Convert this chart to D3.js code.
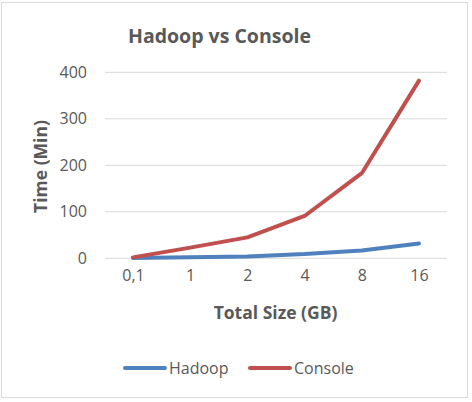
<!DOCTYPE html>
<html><head><meta charset="utf-8">
<script src="https://cdn.jsdelivr.net/npm/d3@7"></script>
<style>body{margin:0;background:#fff}svg{display:block}text{font-family:"Open Sans",sans-serif;fill:#595959}</style>
</head><body>
<svg id="c" width="472" height="402"></svg>
<script>
const categories = ["0,1","1","2","4","8","16"];
const hadoop = [0.5, 2, 4, 9, 17, 32];
const consoleVals = [2, 23, 45, 91, 183, 382];
const yTicks = [0,100,200,300,400];
const seriesNames = ["Hadoop","Console"];
const colors = ["#4f81bd","#c0504d"];

const svg = d3.select("#c");
svg.append("rect").attr("x",1.5).attr("y",2.5).attr("width",466).attr("height",395)
  .attr("fill","#fff").attr("stroke","#d9d9d9");

const x = d3.scalePoint().domain(categories).range([133,419]);
const y = d3.scaleLinear().domain([0,400]).range([258.3,72.3]);

// gridlines
svg.append("g").selectAll("line").data(yTicks).join("line")
  .attr("x1",105).attr("x2",447).attr("y1",d=>y(d)).attr("y2",d=>y(d))
  .attr("stroke","#d9d9d9").attr("stroke-width",1);

// y axis
const ya = svg.append("g").attr("transform","translate(105,0)")
  .call(d3.axisLeft(y).tickValues(yTicks).tickSize(0).tickPadding(18));
ya.select(".domain").remove();
ya.selectAll("text").style("font-size","16px").attr("fill","#595959");

// x axis
const xa = svg.append("g").attr("transform","translate(0,258.3)")
  .call(d3.axisBottom(x).tickSize(0).tickPadding(11));
xa.select(".domain").remove();
xa.selectAll("text").style("font-size","16px").attr("fill","#595959");

const line = d3.line().x((d,i)=>x(categories[i])).y(d=>y(d));
[hadoop, consoleVals].forEach((s,k)=>{
  svg.append("path").datum(s).attr("d",line).attr("fill","none")
    .attr("stroke",colors[k]).attr("stroke-width",4).attr("stroke-linecap","round").attr("stroke-linejoin","round");
});

svg.append("text").attr("x",219.5).attr("y",43).attr("text-anchor","middle")
  .style("font-size","19.5px").style("font-weight","bold").text("Hadoop vs Console");
svg.append("text").attr("x",275.5).attr("y",319).attr("text-anchor","middle")
  .style("font-size","17.5px").style("font-weight","bold").text("Total Size (GB)");
svg.append("text").attr("transform","translate(47,166.5) rotate(-90)").attr("text-anchor","middle")
  .style("font-size","17.5px").style("font-weight","bold").text("Time (Min)");

// legend
const lg = [{n:seriesNames[0],c:colors[0],x:125},{n:seriesNames[1],c:colors[1],x:250}];
lg.forEach(l=>{
  svg.append("line").attr("x1",l.x).attr("x2",l.x+40).attr("y1",368).attr("y2",368)
    .attr("stroke",l.c).attr("stroke-width",4).attr("stroke-linecap","round");
  svg.append("text").attr("x",l.x+44).attr("y",368).attr("dy","0.35em")
    .style("font-size","16px").text(l.n);
});
</script>
</body></html>
